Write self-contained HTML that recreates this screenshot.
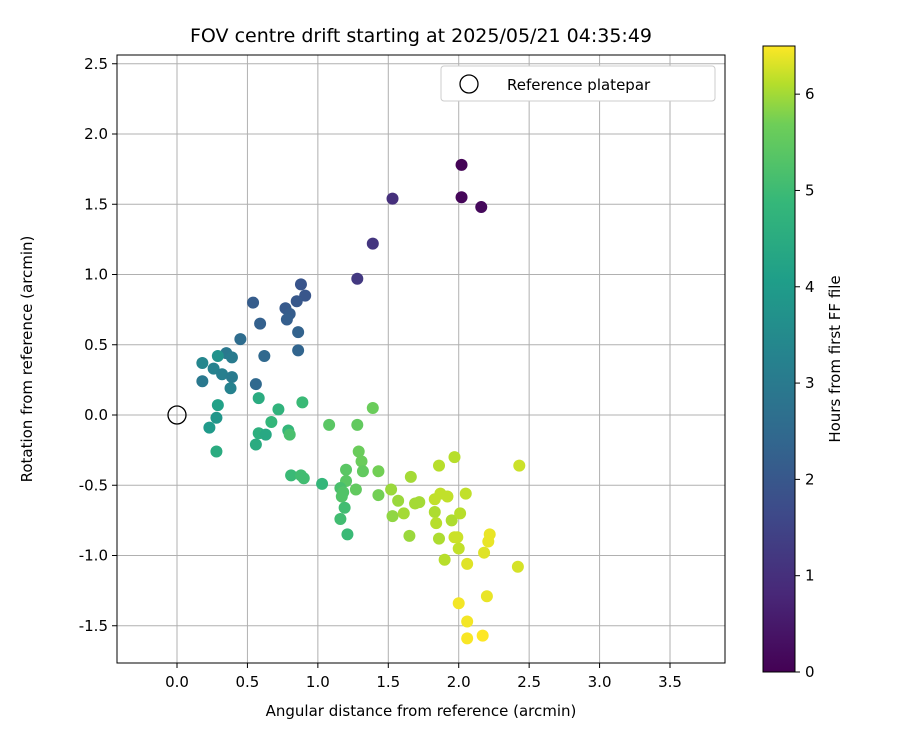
<!DOCTYPE html>
<html><head><meta charset="utf-8"><style>
body{margin:0;background:#fff;font-family:"Liberation Sans","DejaVu Sans",sans-serif;}
</style></head><body>
<svg id="c" width="900" height="750" xmlns="http://www.w3.org/2000/svg" font-family="DejaVu Sans, Liberation Sans, sans-serif">
<defs><linearGradient id="vg" x1="0" y1="1" x2="0" y2="0">
<stop offset="0" stop-color="#440154"/><stop offset="0.125" stop-color="#482878"/><stop offset="0.25" stop-color="#3e4989"/><stop offset="0.375" stop-color="#31688e"/><stop offset="0.5" stop-color="#26828e"/><stop offset="0.625" stop-color="#1f9e89"/><stop offset="0.75" stop-color="#35b779"/><stop offset="0.875" stop-color="#6ece58"/><stop offset="0.94" stop-color="#b5de2b"/><stop offset="1" stop-color="#fde725"/></linearGradient></defs>
<text x="421" y="42" font-size="19" text-anchor="middle">FOV centre drift starting at 2025/05/21 04:35:49</text>
<g id="grid"></g><g id="pts"></g>
<rect x="117" y="55" width="608" height="608" fill="none" stroke="#000" stroke-width="1"/>
<text x="421" y="716" font-size="15" text-anchor="middle">Angular distance from reference (arcmin)</text>
<text transform="translate(32,359) rotate(-90)" font-size="15" text-anchor="middle">Rotation from reference (arcmin)</text>
<g>
<rect x="441" y="66" width="274" height="35" rx="3" fill="#fff" stroke="#ccc"/>
<circle cx="469" cy="84" r="9" fill="none" stroke="#000" stroke-width="1.3"/>
<text x="507" y="90" font-size="15">Reference platepar</text></g>
<rect x="763" y="46" width="32" height="626" fill="url(#vg)" stroke="#000"/>
<g id="cb"></g>
<text transform="translate(840,359) rotate(-90)" font-size="15" text-anchor="middle">Hours from first FF file</text>
</svg>
<script>
const xTicks=[0,0.5,1,1.5,2,2.5,3,3.5];
const yTicks=[-1.5,-1,-0.5,0,0.5,1,1.5,2,2.5];
const cbTicks=[0,1,2,3,4,5,6];
const xs=[2.02,2.02,2.16,1.53,1.39,1.28,0.88,0.91,0.85,0.54,0.77,0.80,0.78,0.59,0.86,0.45,0.86,0.62,0.56,0.35,0.39,0.18,0.29,0.26,0.32,0.39,0.18,0.38,0.29,0.28,0.23,0.28,0.58,0.72,0.89,0.58,0.56,0.63,0.67,0.79,0.80,0.81,0.88,0.90,1.03,1.08,1.28,1.39,1.29,1.31,1.32,1.20,1.20,1.16,1.18,1.17,1.27,1.19,1.16,1.21,1.43,1.43,1.52,1.57,1.53,1.61,1.66,1.69,1.72,1.65,1.86,1.97,1.83,1.87,1.92,1.83,1.84,1.86,1.95,2.01,2.05,1.97,1.99,2.00,1.90,2.06,2.18,2.21,2.22,2.43,2.42,2.20,2.00,2.06,2.06,2.17];
const ys=[1.78,1.55,1.48,1.54,1.22,0.97,0.93,0.85,0.81,0.80,0.76,0.72,0.68,0.65,0.59,0.54,0.46,0.42,0.22,0.44,0.41,0.37,0.42,0.33,0.29,0.27,0.24,0.19,0.07,-0.02,-0.09,-0.26,0.12,0.04,0.09,-0.13,-0.21,-0.14,-0.05,-0.11,-0.14,-0.43,-0.43,-0.45,-0.49,-0.07,-0.07,0.05,-0.26,-0.33,-0.40,-0.39,-0.47,-0.52,-0.55,-0.58,-0.53,-0.66,-0.74,-0.85,-0.40,-0.57,-0.53,-0.61,-0.72,-0.70,-0.44,-0.63,-0.62,-0.86,-0.36,-0.30,-0.60,-0.56,-0.58,-0.69,-0.77,-0.88,-0.75,-0.70,-0.56,-0.87,-0.87,-0.95,-1.03,-1.06,-0.98,-0.90,-0.85,-0.36,-1.08,-1.29,-1.34,-1.47,-1.59,-1.57];
const hours=[0.05,0.1,0.15,0.9,1.0,1.1,1.7,1.75,1.8,1.9,1.85,1.9,1.95,2.0,2.05,2.3,2.1,2.2,2.2,2.6,2.7,3.0,3.3,2.9,2.8,2.7,2.6,2.9,3.7,3.4,3.5,4.0,4.0,4.2,4.4,4.1,4.0,3.9,4.3,4.3,4.6,4.4,4.5,4.5,4.3,4.8,4.9,5.0,5.0,5.0,4.9,4.8,4.8,4.6,4.7,4.7,4.9,4.5,4.5,4.4,5.1,5.1,5.5,5.5,5.4,5.6,5.6,5.6,5.6,5.5,5.8,5.8,5.9,5.9,5.9,5.7,5.8,5.7,5.7,5.8,5.9,6.0,6.0,5.9,5.8,6.2,6.2,6.3,6.3,6.0,6.1,6.3,6.4,6.4,6.45,6.5];
const X=v=>177+v*140.86, Y=v=>415-v*140.5, CB=v=>672-v*(626/6.5);
const NS="http://www.w3.org/2000/svg";
const vir=[[68,1,84],[72,40,120],[62,73,137],[49,104,142],[38,130,142],[31,158,137],[53,183,121],[110,206,88],[181,222,43],[253,231,37]];
function col(h){let t=Math.max(0,Math.min(1,h/6.5))*(vir.length-1);let i=Math.min(Math.floor(t),vir.length-2),f=t-i;
return 'rgb('+vir[i].map((c,k)=>Math.round(c+(vir[i+1][k]-c)*f)).join(',')+')';}
function mk(tag,a,p){const e=document.createElementNS(NS,tag);for(const k in a)e.setAttribute(k,a[k]);p.appendChild(e);return e;}
const g=document.getElementById('grid');
xTicks.forEach(v=>{
 const l=mk('line',{x1:X(v),x2:X(v),y1:55,y2:663,stroke:'#b0b0b0','stroke-width':1},g);
 
 
 mk('line',{x1:X(v),x2:X(v),y1:663,y2:668,stroke:'#000'},g);
 const t=mk('text',{x:X(v),y:687,'font-size':15,'text-anchor':'middle'},g);t.textContent=v.toFixed(1);
 
 
});
yTicks.forEach(v=>{
 const l=mk('line',{x1:117,x2:725,y1:Y(v),y2:Y(v),stroke:'#b0b0b0','stroke-width':1},g);
 
 
 mk('line',{x1:112,x2:117,y1:Y(v),y2:Y(v),stroke:'#000'},g);
 const t=mk('text',{x:108,y:Y(v)+5,'font-size':15,'text-anchor':'end'},g);t.textContent=v.toFixed(1);
 
 
});
const p=document.getElementById('pts');
const ref=mk('circle',{cx:X(0),cy:Y(0),r:9,fill:'none',stroke:'#000','stroke-width':1.3},p);


xs.forEach((x,i)=>{
 const c=mk('circle',{cx:X(x),cy:Y(ys[i]),r:6,fill:col(hours[i])},p);
 
 
});
const cb=document.getElementById('cb');
cbTicks.forEach(v=>{
 mk('line',{x1:795,x2:800,y1:CB(v),y2:CB(v),stroke:'#000'},cb);
 const t=mk('text',{x:805,y:CB(v)+5,'font-size':15},cb);t.textContent=v;
 
 
});
</script>
</body></html>
